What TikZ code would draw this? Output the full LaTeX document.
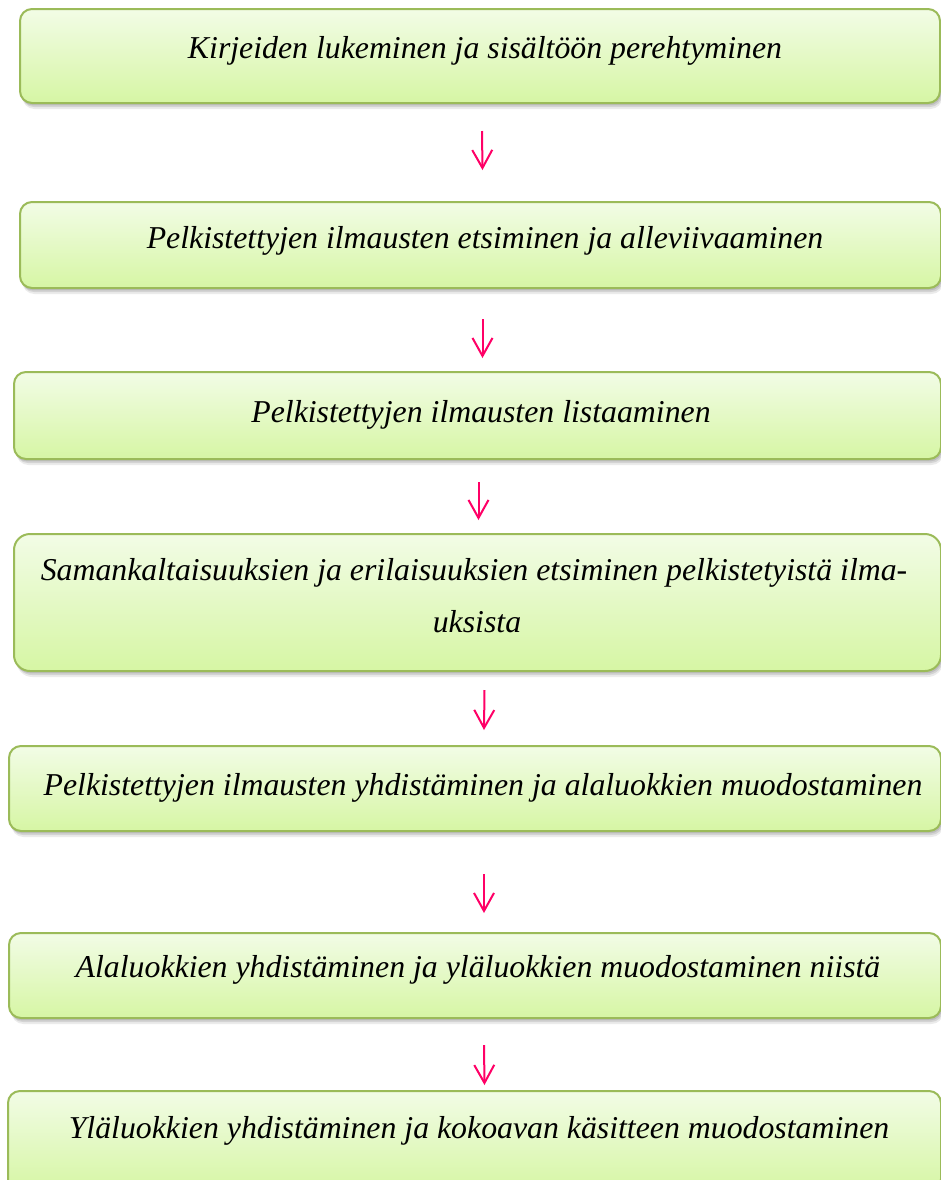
\documentclass[tikz,border=0pt]{standalone}
\usepackage{fontspec}
\setmainfont{Liberation Serif}
\usetikzlibrary{arrows.meta,calc,shadows}
\definecolor{boxtop}{RGB}{242,252,230}
\definecolor{boxbot}{RGB}{214,246,164}
\definecolor{boxline}{RGB}{155,187,89}
\definecolor{arrowred}{RGB}{255,0,102}
\tikzset{
  stepbox/.style={draw=boxline, line width=1pt, rounded corners=6pt,
    top color=boxtop, bottom color=boxbot, inner sep=0pt, anchor=north west,
    general shadow={fill=black, opacity=0.08, shadow xshift=1.2pt, shadow yshift=-3pt},
    general shadow={fill=black, opacity=0.10, shadow xshift=1pt, shadow yshift=-2pt},
    general shadow={fill=black, opacity=0.10, shadow xshift=0.6pt, shadow yshift=-1.2pt}},
  steptext/.style={font=\itshape\fontsize{15.9}{26}\selectfont, anchor=base, inner sep=0pt},
  flow/.style={draw=arrowred, line width=1pt, -{Straight Barb[length=9pt,width=10pt]}}
}
\begin{document}
\begin{tikzpicture}[x=0.5pt,y=-0.5pt]
\clip (0,0) rectangle (941,1180);
\node[stepbox, minimum width=460pt, minimum height=47pt] (b1) at (19,8) {};
\node[stepbox, minimum width=460.5pt, minimum height=43pt] (b2) at (19,201) {};
\node[stepbox, minimum width=463.5pt, minimum height=43.5pt] (b3) at (13,371) {};
\node[stepbox, minimum width=463.5pt, minimum height=68.5pt, rounded corners=8pt] (b4) at (13,533) {};
\node[stepbox, minimum width=466pt, minimum height=42.5pt] (b5) at (8,745) {};
\node[stepbox, minimum width=466pt, minimum height=42.5pt] (b6) at (8,932) {};
\node[stepbox, minimum width=466.5pt, minimum height=50pt] (b7) at (7,1090) {};

\node[steptext] (t1) at (485,58) {Kirjeiden lukeminen ja sisältöön perehtyminen};
\node[steptext] (t2) at (485,248) {Pelkistettyjen ilmausten etsiminen ja alleviivaaminen};
\node[steptext] (t3) at (481,422) {Pelkistettyjen ilmausten listaaminen};
\node[steptext] (t4a) at (474,580) {Samankaltaisuuksien ja erilaisuuksien etsiminen pelkistetyistä ilma-};
\node[steptext] (t4b) at (477,632) {uksista};
\node[steptext] (t5) at (483,795) {Pelkistettyjen ilmausten yhdistäminen ja alaluokkien muodostaminen};
\node[steptext] (t6) at (478,977) {Alaluokkien yhdistäminen ja yläluokkien muodostaminen niistä};
\node[steptext] (t7) at (479,1138) {Yläluokkien yhdistäminen ja kokoavan käsitteen muodostaminen};

\draw[flow] ($(b1.south)+(2,27)$) -- ($(b2.north)+(2,-31)$);
\draw[flow] ($(b2.south)+(2,30)$) -- ($(b3.north)+(5,-13)$);
\draw[flow] ($(b3.south)+(1,22)$) -- ($(b4.north)+(1,-13)$);
\draw[flow] ($(b4.south)+(7,18)$) -- ($(b5.north)+(9,-15)$);
\draw[flow] ($(b5.south)+(9,42)$) -- ($(b6.north)+(9,-19)$);
\draw[flow] ($(b6.south)+(9,26)$) -- ($(b7.north)+(10,-5)$);
\end{tikzpicture}
\end{document}
